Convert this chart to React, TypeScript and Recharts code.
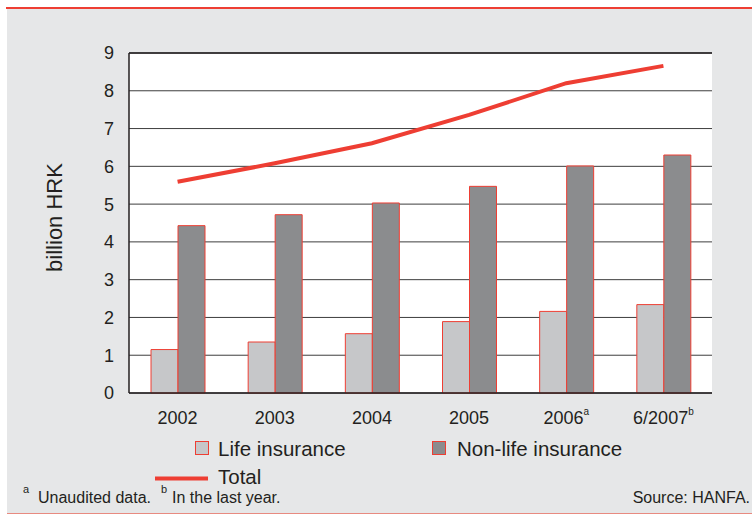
import React from 'react';
import { ComposedChart, Bar, Line, XAxis, YAxis, CartesianGrid } from 'recharts';

const categories = ['2002', '2003', '2004', '2005', '2006', '6/2007'];
const footMarks = ['', '', '', '', 'a', 'b'];
const lifeInsurance = [1.15, 1.35, 1.57, 1.89, 2.16, 2.34];
const nonLifeInsurance = [4.43, 4.72, 5.03, 5.47, 6.01, 6.3];
const totalValues = [5.59, 6.08, 6.61, 7.36, 8.2, 8.66];
const yTicks = [0, 1, 2, 3, 4, 5, 6, 7, 8, 9];

const data = categories.map((c, i) => ({
  name: c,
  mark: footMarks[i],
  life: lifeInsurance[i],
  nonLife: nonLifeInsurance[i],
  total: totalValues[i],
}));

const FONT = '"Liberation Sans", Arial, Helvetica, sans-serif';
const TEXT = '#231f20';
const RED = '#ee3e33';
const LIFE = '#c6c7c9';
const NONLIFE = '#8b8c8e';
const BG = '#e6e7e8';

const XTick = (props: any) => {
  const { x, y, payload } = props;
  const idx = categories.indexOf(payload.value);
  const mark = footMarks[idx] || '';
  return (
    <text x={x} y={y + 31} textAnchor="middle" fontSize={18} fill={TEXT} fontFamily={FONT}>
      {payload.value}
      {mark ? (
        <tspan fontSize={10} dy={-9}>{mark}</tspan>
      ) : null}
    </text>
  );
};

export default function App() {
  return (
    <div style={{ position: 'absolute', left: 0, top: 0, width: 752, height: 514, fontFamily: FONT }}>
      <div style={{ position: 'absolute', left: 7, top: 9, width: 745, height: 504, background: BG }} />
      <div style={{ position: 'absolute', left: 6, top: 6.5, width: 746, height: 2.5, background: RED }} />
      <div style={{ position: 'absolute', left: 7, top: 512.5, width: 745, height: 1, background: '#e88a80' }} />
      <div style={{ position: 'absolute', left: 0, top: 0 }}>
        <ComposedChart
          width={752}
          height={514}
          data={data}
          margin={{ top: 53, right: 40, bottom: 91, left: 69 }}
          barGap={0}
        >
          <CartesianGrid yAxisId="left" vertical={false} stroke="#3d3d3d" strokeWidth={1} fill="#ffffff" />
          <XAxis
            dataKey="name"
            height={30}
            tickSize={0}
            tickMargin={0}
            tick={<XTick />}
            interval={0}
            axisLine={{ stroke: TEXT, strokeWidth: 1.5 }}
            tickLine={false}
          />
          <YAxis
            yAxisId="left"
            width={60}
            domain={[0, 9]}
            ticks={yTicks}
            interval={0}
            tickSize={0}
            tickMargin={15}
            tickLine={false}
            axisLine={{ stroke: TEXT, strokeWidth: 1.5 }}
            tick={{ fontSize: 18, fill: TEXT, fontFamily: FONT }}
          />
          <YAxis
            yAxisId="right"
            orientation="right"
            width={0}
            domain={[0, 9]}
            tick={false}
            tickLine={false}
            axisLine={{ stroke: TEXT, strokeWidth: 1.5 }}
          />
          <Bar yAxisId="left" dataKey="life" barSize={27} fill={LIFE} stroke={RED} strokeWidth={1} isAnimationActive={false} />
          <Bar yAxisId="left" dataKey="nonLife" barSize={27} fill={NONLIFE} stroke={RED} strokeWidth={1} isAnimationActive={false} />
          <Line yAxisId="left" type="linear" dataKey="total" stroke={RED} strokeWidth={4} dot={false} isAnimationActive={false} />
        </ComposedChart>
      </div>
      <svg
        width={752}
        height={514}
        style={{ position: 'absolute', left: 0, top: 0, pointerEvents: 'none' }}
        fontFamily={FONT}
      >
        <line x1={129} y1={53} x2={712} y2={53} stroke={TEXT} strokeWidth={1.5} />
        <text transform="translate(62,217.5) rotate(-90)" textAnchor="middle" fontSize={22} fill={TEXT}>
          billion HRK
        </text>
        <rect x={195.5} y={441.5} width={13} height={13} fill={LIFE} stroke={RED} strokeWidth={1} />
        <text x={218} y={456} fontSize={20.5} fill={TEXT}>Life insurance</text>
        <rect x={432.5} y={441.5} width={13} height={13} fill={NONLIFE} stroke={RED} strokeWidth={1} />
        <text x={457} y={456} fontSize={20.5} fill={TEXT}>Non-life insurance</text>
        <line x1={155} y1={478.5} x2={208} y2={478.5} stroke={RED} strokeWidth={4} />
        <text x={218} y={484} fontSize={20.5} fill={TEXT}>Total</text>
        <text x={23} y={493} fontSize={11} fill={TEXT}>a</text>
        <text x={38} y={503} fontSize={16} fill={TEXT}>Unaudited data.</text>
        <text x={161} y={493} fontSize={11} fill={TEXT}>b</text>
        <text x={172} y={503} fontSize={16} fill={TEXT}>In the last year.</text>
        <text x={750} y={503} fontSize={16} fill={TEXT} textAnchor="end">Source: HANFA.</text>
      </svg>
    </div>
  );
}
